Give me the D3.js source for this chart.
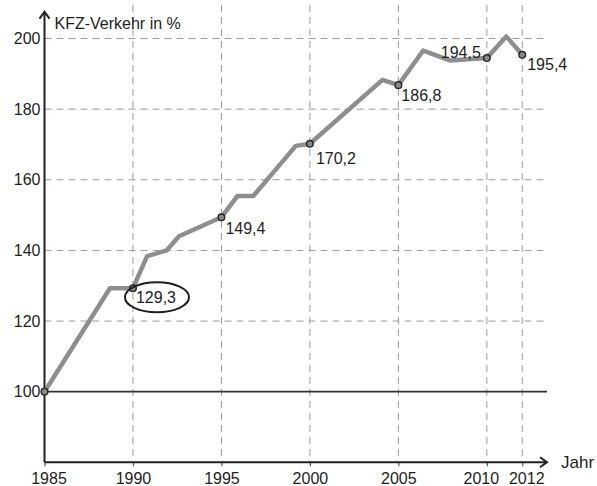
<!DOCTYPE html>
<html>
<head>
<meta charset="utf-8">
<script src="https://cdn.jsdelivr.net/npm/d3@7"></script>
<style>
  body { margin: 0; background: #fff; }
  svg text { font-family: 'Liberation Sans', Arial, Helvetica, sans-serif; fill: #1e1e1e; }
</style>
</head>
<body>
<div id="chart"></div>
<script>
// Data
const years = [1985, 1988.7, 1990, 1990.8, 1991.9, 1992.6, 1995, 1995.9, 1996.8, 1999.2, 2000, 2004.1, 2005, 2006.4, 2007.9, 2010, 2011.1, 2012]
const values = [100, 129.3, 129.3, 138.4, 140, 144, 149.4, 155.4, 155.4, 169.6, 170.2, 188.3, 186.8, 196.6, 193.8, 194.5, 200.6, 195.4]
const markedYears = [1985, 1990, 1995, 2000, 2005, 2010, 2012]
const labelYears = [1990, 1995, 2000, 2005, 2010, 2012]
const labelTexts = ['129,3', '149,4', '170,2', '186,8', '194,5', '195,4']
const xTicks = [1985, 1990, 1995, 2000, 2005, 2010, 2012]
const yTicks = [100, 120, 140, 160, 180, 200]

// layout only: label placement relative to the point, and nudges of year labels
const labelOffsets = [[3, 14.5, 'start'], [4, 17, 'start'], [6, 20, 'start'], [3, 16, 'start'], [-6, 0, 'end'], [5, 15, 'start']]
const xTickNudge = [4, 0, 0, 0, 0, -6, 4]

const width = 597
const height = 486
const fontSize = 16

const svg = d3.select('#chart').append('svg').attr('width', width).attr('height', height)

const x = d3.scaleLinear().domain([1985, 2013.4]).range([44.5, 547])
const y = d3.scaleLinear().domain([80, 207.6]).range([462.3, 11.7])

const gridColor = '#9a9a9a'
const axisColor = '#222'

// vertical grid
svg.append('g')
  .selectAll('line')
  .data(xTicks.slice(1))
  .join('line')
  .attr('x1', (d) => x(d))
  .attr('x2', (d) => x(d))
  .attr('y1', y(209.5))
  .attr('y2', y(80))
  .attr('stroke', gridColor)
  .attr('stroke-width', 1)
  .attr('stroke-dasharray', '7,5')

// horizontal grid
svg.append('g')
  .selectAll('line')
  .data(yTicks.slice(1))
  .join('line')
  .attr('x1', x(1985))
  .attr('x2', x(2013.4))
  .attr('y1', (d) => y(d))
  .attr('y2', (d) => y(d))
  .attr('stroke', gridColor)
  .attr('stroke-width', 1)
  .attr('stroke-dasharray', '7,5')

// 100 % line
svg.append('line')
  .attr('x1', x(1985))
  .attr('x2', x(2013.4))
  .attr('y1', y(100))
  .attr('y2', y(100))
  .attr('stroke', '#333')
  .attr('stroke-width', 1.6)

// axes text
const xAxis = svg.append('g')
  .attr('transform', `translate(0, ${y(80)})`)
  .call(d3.axisBottom(x).tickValues(xTicks).tickFormat(d3.format('d')).tickSize(4).tickPadding(6.5))
xAxis.select('.domain').remove()
xAxis.selectAll('.tick line').attr('stroke', '#555').attr('stroke-width', 1.2)
xAxis.selectAll('text')
  .attr('font-size', fontSize)
  .attr('font-family', null)
  .attr('dx', (d, i) => xTickNudge[i])

const yAxis = svg.append('g')
  .attr('transform', `translate(${x(1985)}, 0)`)
  .call(d3.axisLeft(y).tickValues(yTicks).tickSize(0).tickPadding(4))
yAxis.select('.domain').remove()
yAxis.selectAll('text').attr('font-size', fontSize).attr('font-family', null)

// axis lines with arrow heads
svg.append('path')
  .attr('d', `M${x(1985)},${y(80)}V${y(207.6)}M${x(1985) - 5},${y(207.6) + 7}L${x(1985)},${y(207.6)}L${x(1985) + 5},${y(207.6) + 7}`)
  .attr('fill', 'none')
  .attr('stroke', axisColor)
  .attr('stroke-width', 2)

svg.append('path')
  .attr('d', `M${x(1985)},${y(80)}H${x(2013.4)}M${x(2013.4) - 7},${y(80) - 5}L${x(2013.4)},${y(80)}L${x(2013.4) - 7},${y(80) + 5}`)
  .attr('fill', 'none')
  .attr('stroke', axisColor)
  .attr('stroke-width', 2)

svg.append('text')
  .attr('x', x(1985) + 10)
  .attr('y', y(207.6) + 17)
  .attr('font-size', fontSize)
  .text('KFZ-Verkehr in %')

svg.append('text')
  .attr('x', x(2013.4) + 14)
  .attr('y', y(80) + 6)
  .attr('font-size', 17)
  .text('Jahr')

// the data line
const data = years.map((yr, i) => ({ year: yr, value: values[i] }))
const line = d3.line().x((d) => x(d.year)).y((d) => y(d.value))

svg.append('path')
  .datum(data)
  .attr('d', line)
  .attr('fill', 'none')
  .attr('stroke', '#8e8e8e')
  .attr('stroke-width', 4.5)
  .attr('stroke-linejoin', 'round')

// markers
const marked = data.filter((d) => markedYears.includes(d.year))
svg.append('g')
  .selectAll('circle')
  .data(marked)
  .join('circle')
  .attr('cx', (d) => x(d.year))
  .attr('cy', (d) => y(d.value))
  .attr('r', 3.3)
  .attr('fill', '#8a8a8a')
  .attr('stroke', '#2a2a2a')
  .attr('stroke-width', 1.5)

// value labels
const labels = labelYears.map((yr, i) => ({ ...data.find((d) => d.year === yr), text: labelTexts[i], off: labelOffsets[i] }))
svg.append('g')
  .selectAll('text')
  .data(labels)
  .join('text')
  .attr('x', (d) => x(d.year) + d.off[0])
  .attr('y', (d) => y(d.value) + d.off[1])
  .attr('text-anchor', (d) => d.off[2])
  .attr('font-size', fontSize)
  .text((d) => d.text)

// ellipse around the 1990 value
const first = labels[0]
svg.append('ellipse')
  .attr('cx', x(first.year) + 24)
  .attr('cy', y(first.value) + 9)
  .attr('rx', 32)
  .attr('ry', 15)
  .attr('fill', 'none')
  .attr('stroke', '#1e1e1e')
  .attr('stroke-width', 2)
</script>
</body>
</html>
